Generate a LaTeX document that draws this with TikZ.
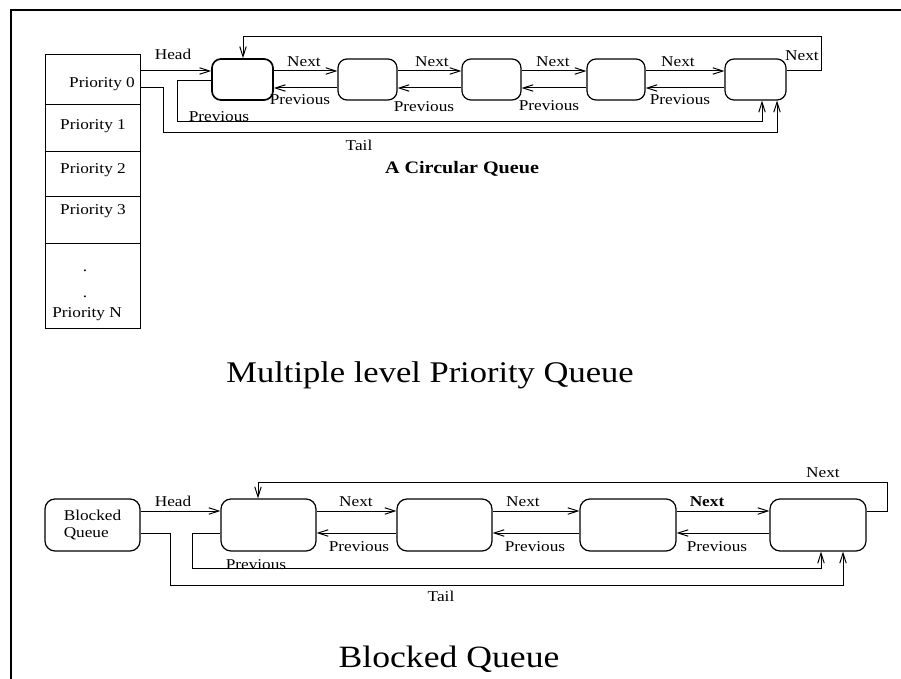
\documentclass[tikz,border=0pt]{standalone}
\usepackage{fontspec}
\setmainfont{Liberation Serif}[FakeStretch=1.15]
\usetikzlibrary{arrows.meta}
\begin{document}
\begin{tikzpicture}[x=1pt,y=-1pt,
  lbl/.style={font=\fontsize{15}{17}\selectfont, anchor=base, inner sep=0pt},
  row/.style={draw, line width=1.2pt, minimum width=95pt, inner sep=0pt, anchor=north west},
  qnode/.style={draw, line width=1.2pt, rounded corners=9pt, inner sep=0pt, minimum height=41pt},
  bnode/.style={draw, line width=1.2pt, rounded corners=10pt, inner sep=0pt, minimum height=52pt, minimum width=95pt},
  conn/.style={line width=1pt},
  arr/.style={conn, -{Straight Barb[length=10pt,width=6.5pt,line width=1pt]}}
]
\useasboundingbox (0,0) rectangle (901,679);
% frame
\draw[line width=1.5pt] (11,679) -- (11,10) -- (901,10);

% priority table
\node[row, minimum height=50pt] (p0) at (45,54) {};
\node[row, minimum height=47pt] (p1) at (45,104) {};
\node[row, minimum height=45pt] (p2) at (45,151) {};
\node[row, minimum height=47pt] (p3) at (45,196) {};
\node[row, minimum height=85pt] (pn) at (45,243) {};
\node[lbl] (t0) at (102,88) {Priority 0};
\node[lbl] (t1) at (93,130) {Priority 1};
\node[lbl] (t2) at (93,174) {Priority 2};
\node[lbl] (t3) at (93,214) {Priority 3};
\node[lbl] (td1) at (85,271) {.};
\node[lbl] (td2) at (85,297) {.};
\node[lbl] (tn) at (87,317) {Priority N};

% circular queue nodes
\node[qnode, line width=1.7pt, minimum width=61pt] (q1) at (242.5,79.5) {};
\node[qnode, minimum width=59pt] (q2) at (367.5,79.5) {};
\node[qnode, minimum width=59pt] (q3) at (491.5,79.5) {};
\node[qnode, minimum width=58pt] (q4) at (616,79.5) {};
\node[qnode, minimum width=61pt] (q5) at (755.5,79.5) {};

% head
\draw[arr] (p0.east |- 0,71) -- (q1.west |- 0,71);
\node[lbl] (lh) at (173,60) {Head};
% next / previous
\draw[arr] (q1.east |- 0,71) -- (q2.west |- 0,71);
\draw[arr] (q2.west |- 0,88) -- (q1.east |- 0,88);
\draw[arr] (q2.east |- 0,71) -- (q3.west |- 0,71);
\draw[arr] (q3.west |- 0,88) -- (q2.east |- 0,88);
\draw[arr] (q3.east |- 0,71) -- (q4.west |- 0,71);
\draw[arr] (q4.west |- 0,88) -- (q3.east |- 0,88);
\draw[arr] (q4.east |- 0,71) -- (q5.west |- 0,71);
\draw[arr] (q5.west |- 0,88) -- (q4.east |- 0,88);
\node[lbl] at (304,67) {Next};
\node[lbl] at (432,67) {Next};
\node[lbl] at (553,67) {Next};
\node[lbl] at (678,67) {Next};
\node[lbl] at (300,105) {Previous};
\node[lbl] at (424,112) {Previous};
\node[lbl] at (549,111) {Previous};
\node[lbl] at (680,105) {Previous};
% wrap-around next
\coordinate (rn1) at (821,71);
\coordinate (rn2) at (821,37);
\coordinate (rn3) at (243,37);
\draw[arr] (q5.east |- rn1) -- (rn1) -- (rn2) -- (rn3) -- (rn3 |- q1.north);
\node[lbl] at (802,61) {Next};
% wrap-around previous
\coordinate (rp1) at (177,81);
\coordinate (rp2) at (177,122);
\coordinate (rp3) at (762,122);
\draw[arr] (q1.west |- rp1) -- (rp1) -- (rp2) -- (rp3) -- (rp3 |- q5.south);
\node[lbl] at (219,122) {Previous};
% tail
\coordinate (tl1) at (163,88);
\coordinate (tl2) at (163,133);
\coordinate (tl3) at (777,133);
\draw[arr] (p0.east |- tl1) -- (tl1) -- (tl2) -- (tl3) -- (tl3 |- q5.south);
\node[lbl] at (359,151) {Tail};
\node[lbl, font=\fontsize{17.5}{20}\selectfont\bfseries] (cq) at (462,174) {A Circular Queue};

\node[lbl, font=\fontsize{30}{34}\selectfont] (title1) at (430,382) {Multiple level Priority Queue};

% blocked queue
\node[bnode, align=left, font=\fontsize{15}{17}\selectfont] (b0) at (92.5,525) {Blocked\\Queue};
\node[bnode] (b1) at (268.5,525) {};
\node[bnode] (b2) at (444.5,525) {};
\node[bnode, minimum width=96pt] (b3) at (628,525) {};
\node[bnode, minimum width=96pt] (b4) at (818,525) {};

\draw[arr] (b0.east |- 0,511) -- (b1.west |- 0,511);
\node[lbl] at (173,506) {Head};
\draw[arr] (b1.east |- 0,511) -- (b2.west |- 0,511);
\draw[arr] (b2.west |- 0,533) -- (b1.east |- 0,533);
\draw[arr] (b2.east |- 0,511) -- (b3.west |- 0,511);
\draw[arr] (b3.west |- 0,533) -- (b2.east |- 0,533);
\draw[arr] (b3.east |- 0,511) -- (b4.west |- 0,511);
\draw[arr] (b4.west |- 0,533) -- (b3.east |- 0,533);
\node[lbl] at (356,506) {Next};
\node[lbl] at (523,506) {Next};
\node[lbl, font=\fontsize{15}{17}\selectfont\bfseries] at (707,506) {Next};
\node[lbl] at (359,551) {Previous};
\node[lbl] at (535,551) {Previous};
\node[lbl] at (717,551) {Previous};
% wrap next
\coordinate (bn1) at (887,511);
\coordinate (bn2) at (887,482);
\coordinate (bn3) at (258,482);
\draw[arr] (b4.east |- bn1) -- (bn1) -- (bn2) -- (bn3) -- (bn3 |- b1.north);
\node[lbl] at (823,477) {Next};
% wrap previous
\coordinate (bp1) at (192,533);
\coordinate (bp2) at (192,568);
\coordinate (bp3) at (821,568);
\draw[arr] (b1.west |- bp1) -- (bp1) -- (bp2) -- (bp3) -- (bp3 |- b4.south);
\node[lbl] at (256,569) {Previous};
% tail
\coordinate (bt1) at (170,533);
\coordinate (bt2) at (170,585);
\coordinate (bt3) at (843,585);
\draw[arr] (b0.east |- bt1) -- (bt1) -- (bt2) -- (bt3) -- (bt3 |- b4.south);
\node[lbl] at (441,601) {Tail};

\node[lbl, font=\fontsize{31}{35}\selectfont] (title2) at (449,667) {Blocked Queue};
\end{tikzpicture}
\end{document}
